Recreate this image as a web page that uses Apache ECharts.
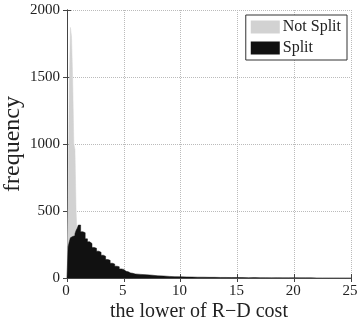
<!DOCTYPE html>
<html>
<head>
<meta charset="utf-8">
<script src="https://cdn.jsdelivr.net/npm/echarts@6/dist/echarts.min.js"></script>
<style>
  html, body { margin: 0; padding: 0; background: #fff; }
  #chart { width: 357px; height: 324px; }
</style>
</head>
<body>
<div id="chart"></div>
<script>
// left edge of each histogram bin (last bin ends at 25)
const binStart = [0, 0.1, 0.2, 0.3, 0.4, 0.5, 0.6, 0.7, 0.8, 0.9,
  1.0, 1.2, 1.4, 1.6, 1.8, 2.0, 2.2, 2.4, 2.6, 2.8, 3.0, 3.2, 3.4, 3.6, 3.8,
  4.0, 4.2, 4.4, 4.6, 4.8, 5.0, 5.2, 5.4, 5.6, 5.8,
  6.0, 6.5, 7.0, 7.5, 8.0, 8.5, 9.0, 9.5, 10.0, 10.5, 11.0, 11.5, 12.0, 12.5,
  13.0, 13.5, 14.0, 14.5, 15.0, 15.5, 16.0, 16.5, 17.0, 17.5, 18.0, 18.5,
  19.0, 19.5, 20.0, 20.5, 21.0, 21.5, 22.0, 22.5, 23.0, 23.5, 24.0, 24.5]
const binEnd = 25

const notSplit = [0, 600, 1450, 1870, 1800, 1480, 1000, 960, 500, 300,
  150, 100, 70, 50, 40, 30, 25, 20, 18, 15, 12, 10, 9, 8, 7,
  6, 5, 5, 4, 4, 3, 3, 3, 2, 2,
  2, 2, 1, 1, 1, 1, 1, 1, 1, 1, 0, 0, 0, 0,
  0, 0, 0, 0, 0, 0, 0, 0, 0, 0, 0, 0,
  0, 0, 0, 0, 0, 0, 0, 0, 0, 0, 0, 0]

const split = [0, 234, 270, 300, 310, 320, 315, 330, 355, 372,
  395, 345, 338, 292, 270, 258, 228, 222, 200, 192, 170, 162, 138, 132, 110,
  104, 88, 84, 68, 64, 50, 46, 38, 35, 30,
  27, 24, 21, 16, 15, 12, 10, 9, 8, 7, 6, 6, 5, 5,
  4, 4, 3, 4, 3, 2, 3, 2, 2, 1, 2, 1,
  1, 2, 1, 1, 1, 0, 0, 0, 0, 0, 0, 0]

const xTicks = [0, 5, 10, 15, 20, 25]
const yTicks = [0, 500, 1000, 1500, 2000]

const toSteps = (vals) => binStart.map((x, i) => [x, vals[i]]).concat([[binEnd, 0]])

const font = '"Liberation Serif", "DejaVu Serif", serif'
const ink = '#222'

let chart = echarts.init(document.getElementById('chart'))

const boxAxis = (extra) => Object.assign({
  type: 'value',
  axisLine: { show: true, lineStyle: { color: '#444', width: 1 } },
  axisTick: { show: true, inside: true, length: 4, lineStyle: { color: '#444' } },
  axisLabel: { show: false },
  splitLine: { show: false }
}, extra)

const option = {
  animation: false,
  backgroundColor: '#fff',
  grid: { left: 67, right: 6, top: 10, bottom: 46, show: false, outerBoundsMode: 'none', containLabel: false },
  legend: {
    orient: 'vertical',
    right: 10,
    top: 15,
    itemWidth: 29,
    itemHeight: 13,
    itemGap: 5,
    padding: [4, 6, 4, 5],
    borderColor: '#333',
    borderWidth: 1,
    backgroundColor: '#fff',
    icon: 'rect',
    textStyle: { fontFamily: font, fontSize: 16, color: ink, padding: [0, 0, 0, -2] },
    data: ['Not Split', 'Split']
  },
  xAxis: [
    boxAxis({
      min: xTicks[0], max: xTicks[xTicks.length - 1], interval: 5,
      position: 'bottom',
      axisLabel: { show: true, fontFamily: font, fontSize: 15, color: ink, margin: 6, padding: [0, 2, 0, 0] },
      splitLine: { show: true, lineStyle: { color: '#bbb', type: 'dotted' } },
      name: 'the lower of R\u2212D cost',
      nameLocation: 'middle',
      nameGap: 24,
      nameMoveOverlap: false,
      nameTextStyle: { fontFamily: font, fontSize: 20, color: ink, padding: [0, 20, 0, 0] }
    }),
    boxAxis({ min: 0, max: 25, interval: 5, position: 'top' })
  ],
  yAxis: [
    boxAxis({
      min: yTicks[0], max: yTicks[yTicks.length - 1], interval: 500,
      position: 'left',
      axisLabel: { show: true, fontFamily: font, fontSize: 15, color: ink, margin: 7, formatter: (v) => String(v) },
      splitLine: { show: true, lineStyle: { color: '#bbb', type: 'dotted' } },
      name: 'frequency',
      nameLocation: 'middle',
      nameGap: 42,
      nameMoveOverlap: false,
      nameTextStyle: { fontFamily: font, fontSize: 24, color: ink }
    }),
    boxAxis({ min: 0, max: 2000, interval: 500, position: 'right' })
  ],
  series: [
    {
      name: 'Not Split',
      type: 'line',
      step: 'end',
      showSymbol: false,
      data: toSteps(notSplit),
      itemStyle: { color: '#d2d2d2' },
      lineStyle: { color: '#d2d2d2', width: 0.5 },
      areaStyle: { color: '#d2d2d2', opacity: 1 },
      z: 2
    },
    {
      name: 'Split',
      type: 'line',
      step: 'end',
      showSymbol: false,
      data: toSteps(split),
      itemStyle: { color: '#111' },
      lineStyle: { color: '#111', width: 0.5 },
      areaStyle: { color: '#111', opacity: 1 },
      z: 3
    }
  ]
}

chart.setOption(option)
</script>
</body>
</html>
